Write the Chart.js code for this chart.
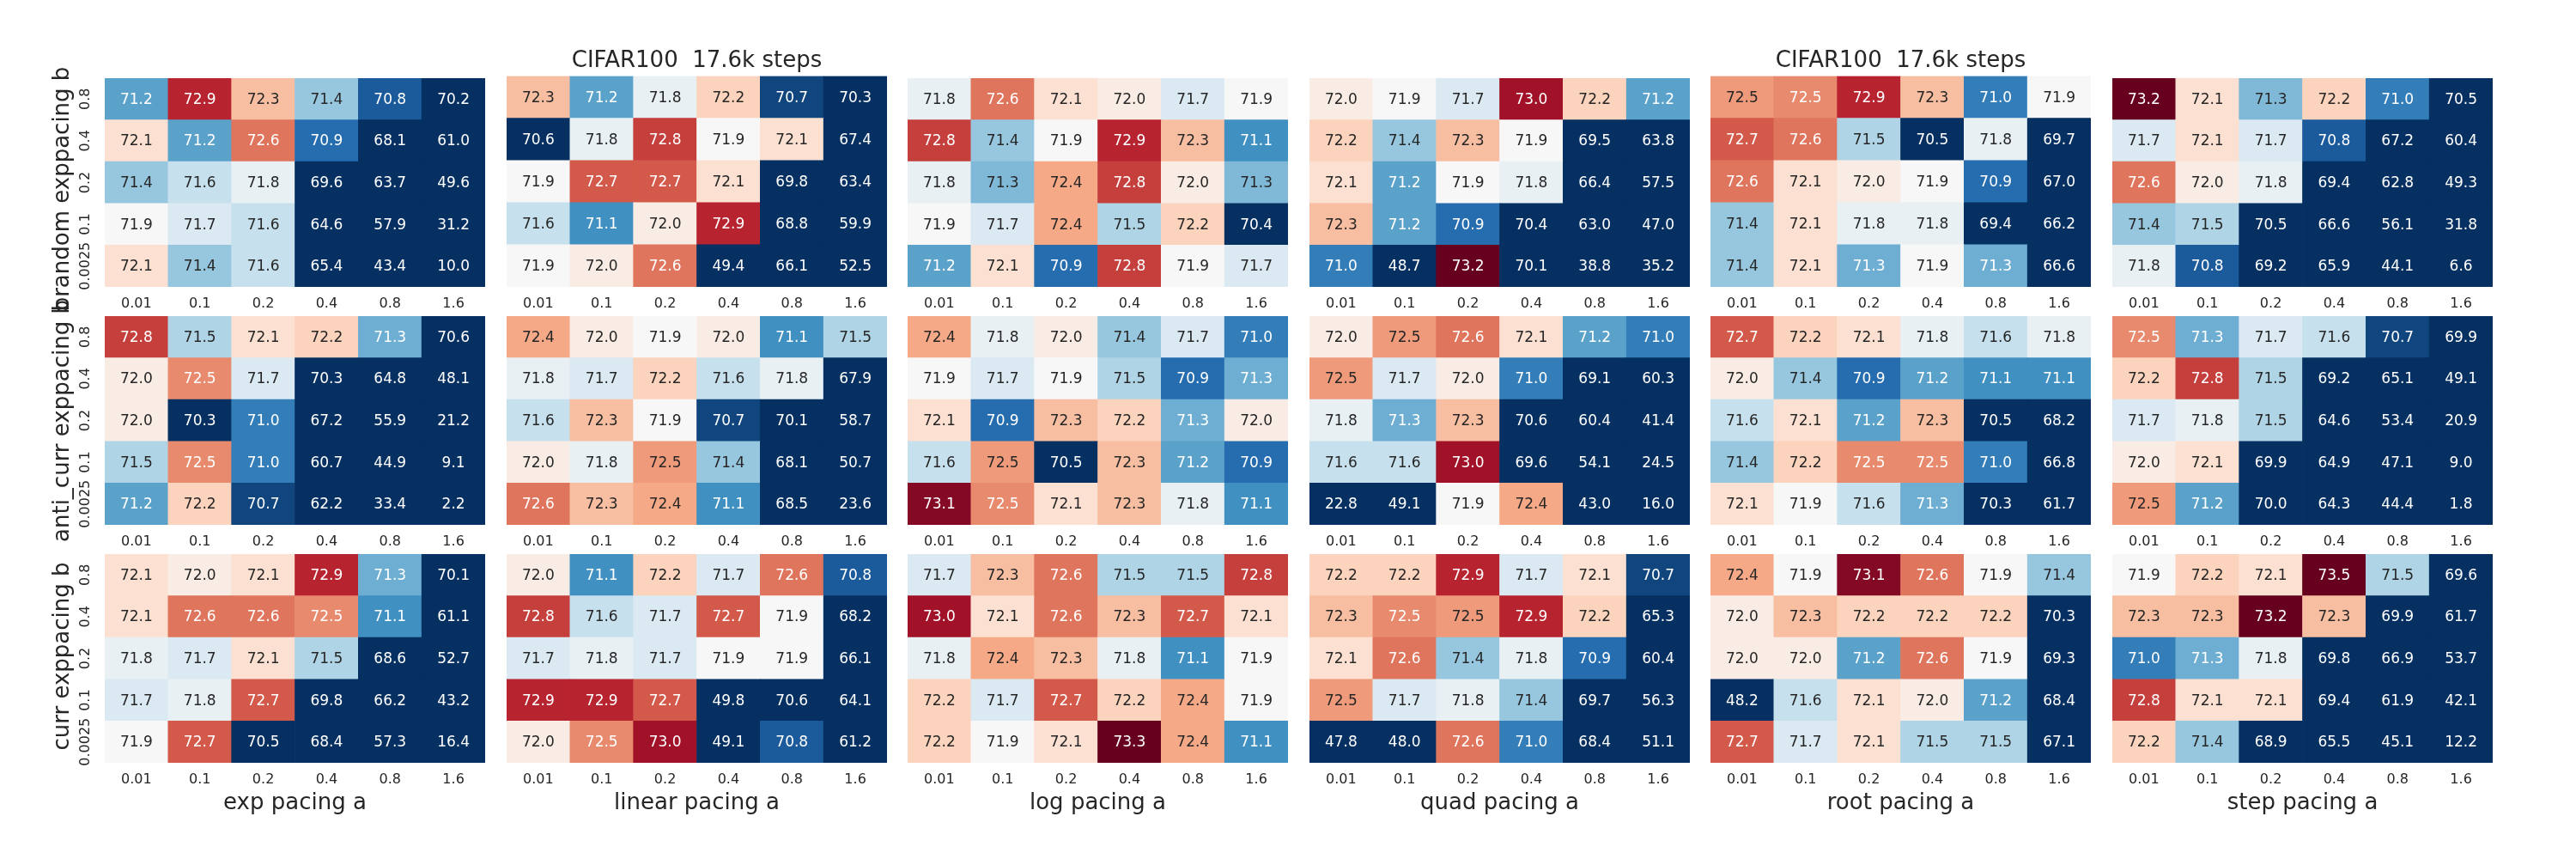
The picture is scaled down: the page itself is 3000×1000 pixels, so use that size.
<!DOCTYPE html>
<html>
<head>
<meta charset="utf-8">
<script src="https://cdn.jsdelivr.net/npm/chart.js@4.4.1/dist/chart.umd.min.js"></script>
<style>
  html, body { margin: 0; padding: 0; background: #fff; }
  #fig { position: relative; width: 3000px; height: 1000px; }
  .panel { position: absolute; }
</style>
</head>
<body>
<div id="fig"></div>
<script>
// ---------------------------------------------------------------
// ---------------------------- data ------------------------------
// ---------------------------------------------------------------

// tick labels (columns = pacing a, rows = pacing b from top to bottom)
const A_LABELS = ['0.01', '0.1', '0.2', '0.4', '0.8', '1.6'];
const B_LABELS = ['0.8', '0.4', '0.2', '0.1', '0.0025'];
const SCHEDULES = ['exp', 'linear', 'log', 'quad', 'root', 'step'];
const ORDERINGS = ['brandom', 'anti_curr', 'curr'];

// test accuracy, one grid per (pacing, ordering)
const exp_brandom = [
  [71.2, 72.9, 72.3, 71.4, 70.8, 70.2],
  [72.1, 71.2, 72.6, 70.9, 68.1, 61.0],
  [71.4, 71.6, 71.8, 69.6, 63.7, 49.6],
  [71.9, 71.7, 71.6, 64.6, 57.9, 31.2],
  [72.1, 71.4, 71.6, 65.4, 43.4, 10.0]
];
const exp_anti_curr = [
  [72.8, 71.5, 72.1, 72.2, 71.26, 70.6],
  [72.0, 72.52, 71.7, 70.3, 64.8, 48.1],
  [72.0, 70.3, 71.0, 67.2, 55.9, 21.2],
  [71.5, 72.52, 71.0, 60.7, 44.9, 9.1],
  [71.2, 72.2, 70.7, 62.2, 33.4, 2.2]
];
const exp_curr = [
  [72.1, 72.0, 72.1, 72.9, 71.26, 70.1],
  [72.1, 72.6, 72.6, 72.52, 71.1, 61.1],
  [71.8, 71.7, 72.1, 71.5, 68.6, 52.7],
  [71.7, 71.8, 72.7, 69.8, 66.2, 43.2],
  [71.9, 72.7, 70.5, 68.4, 57.3, 16.4]
];
const linear_brandom = [
  [72.3, 71.2, 71.8, 72.2, 70.7, 70.3],
  [70.6, 71.8, 72.8, 71.9, 72.1, 67.4],
  [71.9, 72.7, 72.7, 72.1, 69.8, 63.4],
  [71.6, 71.1, 72.0, 72.9, 68.8, 59.9],
  [71.9, 72.0, 72.6, 49.4, 66.1, 52.5]
];
const linear_anti_curr = [
  [72.4, 72.0, 71.9, 72.0, 71.1, 71.5],
  [71.8, 71.7, 72.2, 71.6, 71.8, 67.9],
  [71.6, 72.3, 71.9, 70.7, 70.1, 58.7],
  [72.0, 71.8, 72.46, 71.4, 68.1, 50.7],
  [72.6, 72.3, 72.4, 71.1, 68.5, 23.6]
];
const linear_curr = [
  [72.0, 71.1, 72.2, 71.7, 72.6, 70.8],
  [72.8, 71.6, 71.7, 72.7, 71.9, 68.2],
  [71.7, 71.8, 71.7, 71.9, 71.9, 66.1],
  [72.9, 72.9, 72.7, 49.8, 70.6, 64.1],
  [72.0, 72.52, 73.0, 49.1, 70.8, 61.2]
];
const log_brandom = [
  [71.8, 72.6, 72.1, 72.0, 71.7, 71.9],
  [72.8, 71.4, 71.9, 72.9, 72.3, 71.1],
  [71.8, 71.32, 72.4, 72.8, 72.0, 71.32],
  [71.9, 71.7, 72.4, 71.5, 72.2, 70.4],
  [71.2, 72.1, 70.9, 72.8, 71.9, 71.7]
];
const log_anti_curr = [
  [72.4, 71.8, 72.0, 71.4, 71.7, 71.0],
  [71.9, 71.7, 71.9, 71.5, 70.9, 71.26],
  [72.1, 70.9, 72.3, 72.2, 71.26, 72.0],
  [71.6, 72.46, 70.5, 72.3, 71.2, 70.9],
  [73.1, 72.52, 72.1, 72.3, 71.8, 71.1]
];
const log_curr = [
  [71.7, 72.3, 72.6, 71.5, 71.5, 72.8],
  [73.0, 72.1, 72.6, 72.3, 72.7, 72.1],
  [71.8, 72.4, 72.3, 71.8, 71.1, 71.9],
  [72.2, 71.7, 72.7, 72.2, 72.4, 71.9],
  [72.2, 71.9, 72.1, 73.3, 72.4, 71.1]
];
const quad_brandom = [
  [72.0, 71.9, 71.7, 73.0, 72.2, 71.2],
  [72.2, 71.4, 72.3, 71.9, 69.5, 63.8],
  [72.1, 71.2, 71.9, 71.8, 66.4, 57.5],
  [72.3, 71.2, 70.9, 70.4, 63.0, 47.0],
  [71.0, 48.7, 73.2, 70.1, 38.8, 35.2]
];
const quad_anti_curr = [
  [72.0, 72.46, 72.6, 72.1, 71.2, 71.0],
  [72.46, 71.7, 72.0, 71.0, 69.1, 60.3],
  [71.8, 71.26, 72.3, 70.6, 60.4, 41.4],
  [71.6, 71.6, 73.0, 69.6, 54.1, 24.5],
  [22.8, 49.1, 71.9, 72.4, 43.0, 16.0]
];
const quad_curr = [
  [72.2, 72.2, 72.9, 71.7, 72.1, 70.7],
  [72.3, 72.52, 72.46, 72.9, 72.2, 65.3],
  [72.1, 72.6, 71.4, 71.8, 70.9, 60.4],
  [72.46, 71.7, 71.8, 71.4, 69.7, 56.3],
  [47.8, 48.0, 72.6, 71.0, 68.4, 51.1]
];
const root_brandom = [
  [72.46, 72.52, 72.9, 72.3, 71.0, 71.9],
  [72.7, 72.6, 71.5, 70.5, 71.8, 69.7],
  [72.6, 72.1, 72.0, 71.9, 70.9, 67.0],
  [71.4, 72.1, 71.8, 71.8, 69.4, 66.2],
  [71.4, 72.1, 71.26, 71.9, 71.26, 66.6]
];
const root_anti_curr = [
  [72.7, 72.2, 72.1, 71.8, 71.6, 71.8],
  [72.0, 71.4, 70.9, 71.2, 71.1, 71.1],
  [71.6, 72.1, 71.2, 72.3, 70.5, 68.2],
  [71.4, 72.2, 72.52, 72.52, 71.0, 66.8],
  [72.1, 71.9, 71.6, 71.26, 70.3, 61.7]
];
const root_curr = [
  [72.4, 71.9, 73.1, 72.6, 71.9, 71.4],
  [72.0, 72.3, 72.2, 72.2, 72.2, 70.3],
  [72.0, 72.0, 71.2, 72.6, 71.9, 69.3],
  [48.2, 71.6, 72.1, 72.0, 71.2, 68.4],
  [72.7, 71.7, 72.1, 71.5, 71.5, 67.1]
];
const step_brandom = [
  [73.2, 72.1, 71.32, 72.2, 71.0, 70.5],
  [71.7, 72.1, 71.7, 70.8, 67.2, 60.4],
  [72.6, 72.0, 71.8, 69.4, 62.8, 49.3],
  [71.4, 71.5, 70.5, 66.6, 56.1, 31.8],
  [71.8, 70.8, 69.2, 65.9, 44.1, 6.6]
];
const step_anti_curr = [
  [72.52, 71.26, 71.7, 71.6, 70.7, 69.9],
  [72.2, 72.8, 71.5, 69.2, 65.1, 49.1],
  [71.7, 71.8, 71.5, 64.6, 53.4, 20.9],
  [72.0, 72.1, 69.9, 64.9, 47.1, 9.0],
  [72.46, 71.2, 70.0, 64.3, 44.4, 1.8]
];
const step_curr = [
  [71.9, 72.2, 72.1, 73.5, 71.5, 69.6],
  [72.3, 72.3, 73.2, 72.3, 69.9, 61.7],
  [71.0, 71.26, 71.8, 69.8, 66.9, 53.7],
  [72.8, 72.1, 72.1, 69.4, 61.9, 42.1],
  [72.2, 71.4, 68.9, 65.5, 45.1, 12.2]
];

const GRIDS = {
  brandom:   [exp_brandom, linear_brandom, log_brandom, quad_brandom, root_brandom, step_brandom],
  anti_curr: [exp_anti_curr, linear_anti_curr, log_anti_curr, quad_anti_curr, root_anti_curr, step_anti_curr],
  curr:      [exp_curr, linear_curr, log_curr, quad_curr, root_curr, step_curr]
};

// ---------------------------------------------------------------
// ---------------------------- colours ---------------------------
// ---------------------------------------------------------------

// RdBu reversed (blue -> white -> red)
const RDBU_R = [
  [5, 48, 97], [33, 102, 172], [67, 147, 195], [146, 197, 222], [209, 229, 240],
  [247, 247, 247], [253, 219, 199], [244, 165, 130], [214, 96, 77], [178, 24, 43], [103, 0, 31]
];
const VMIN = 70.6, VMAX = 73.2;

function cmap(v) {
  let t = (v - VMIN) / (VMAX - VMIN);
  t = Math.min(1, Math.max(0, t));
  const p = t * 10;
  const i = Math.min(9, Math.floor(p));
  const f = p - i;
  return RDBU_R[i].map((c, k) => c + (RDBU_R[i + 1][k] - c) * f);
}
function rgb(c) {
  return 'rgb(' + c.map(Math.round).join(',') + ')';
}
// dark text on light cells, white text on dark cells
function textColor(c) {
  const lin = c.map(x => {
    x = x / 255;
    return x <= 0.03928 ? x / 12.92 : Math.pow((x + 0.055) / 1.055, 2.4);
  });
  const lum = 0.2126 * lin[0] + 0.7152 * lin[1] + 0.0722 * lin[2];
  return lum > 0.408 ? '#262626' : '#ffffff';
}

// ---------------------------------------------------------------
// ---------------------------- plugins ---------------------------
// ---------------------------------------------------------------

// writes the value in the middle of each cell
const cellText = {
  id: 'cellText',
  afterDatasetsDraw(chart) {
    const ctx = chart.ctx;
    ctx.save();
    ctx.font = '17px "DejaVu Sans"';
    ctx.textAlign = 'center';
    ctx.textBaseline = 'middle';
    chart.data.datasets.forEach((ds, di) => {
      chart.getDatasetMeta(di).data.forEach((bar, j) => {
        const v = ds.values[j];
        ctx.fillStyle = textColor(cmap(v));
        ctx.fillText(v.toFixed(1), bar.x, (bar.y + bar.base) / 2 + 1);
      });
    });
    ctx.restore();
  }
};

// long rotated row label, allowed to run past the panel
const rowTitle = {
  id: 'rowTitle',
  afterDraw(chart, args, opts) {
    if (!opts.text) return;
    const {ctx, chartArea} = chart;
    ctx.save();
    ctx.translate(chartArea.left - 49, (chartArea.top + chartArea.bottom) / 2 + opts.dy);
    ctx.rotate(-Math.PI / 2);
    ctx.font = '26px "DejaVu Sans"';
    ctx.fillStyle = '#262626';
    ctx.textAlign = 'center';
    ctx.textBaseline = 'middle';
    ctx.fillText(opts.text, 0, 0);
    ctx.restore();
  }
};

// ---------------------------------------------------------------
// ---------------------------- panels ----------------------------
// ---------------------------------------------------------------

Chart.defaults.font.family = '"DejaVu Sans", sans-serif';
Chart.defaults.color = '#262626';

const PANEL_W = 443, PANEL_H = 243;
const COL_X = [122, 590, 1057, 1525, 1992, 2460];
const ROW_Y = [91, 368, 645];
const ROW_TITLE_DY = [7.5, 0.5, -2.5];
const Y_W = 40;   // y tick box (first column)
const X_H = 63;   // x tick + title box

const fig = document.getElementById('fig');

function makePanel(r, c) {
  const padL = c === 0 ? 122 : 20, padR = 20, padT = 60, padB = 90;
  const hasTitle = r === 0 && (c === 1 || c === 4);

  const div = document.createElement('div');
  div.className = 'panel';
  div.style.left = (COL_X[c] - padL) + 'px';
  div.style.top = (ROW_Y[r] - padT) + 'px';
  div.style.width = (padL + PANEL_W + padR) + 'px';
  div.style.height = (padT + PANEL_H + padB) + 'px';
  const canvas = document.createElement('canvas');
  div.appendChild(canvas);
  fig.appendChild(div);

  const grid = GRIDS[ORDERINGS[r]][c];
  // first dataset sits at the bottom of the stack
  const datasets = grid.map((row, i) => ({
    label: B_LABELS[i],
    data: row.map(() => 1),
    values: row,
    backgroundColor: row.map(v => rgb(cmap(v))),
    borderWidth: 0,
    barPercentage: 1,
    categoryPercentage: 1
  })).reverse();

  new Chart(canvas, {
    type: 'bar',
    data: { labels: A_LABELS, datasets: datasets },
    plugins: [cellText, rowTitle],
    options: {
      responsive: true,
      maintainAspectRatio: false,
      animation: false,
      events: [],
      layout: {
        padding: {
          left: c === 0 ? padL - Y_W : padL,
          right: padR,
          top: hasTitle ? padT - 35.2 : padT,
          bottom: padB - X_H
        }
      },
      plugins: {
        legend: { display: false },
        tooltip: { enabled: false },
        title: {
          display: hasTitle,
          text: 'CIFAR100  17.6k steps',
          font: { size: 26, weight: 'normal' },
          color: '#262626',
          padding: { top: 0, bottom: 1.6 }
        },
        rowTitle: { text: c === 0 ? ORDERINGS[r] + ' exppacing b' : '', dy: ROW_TITLE_DY[r] }
      },
      scales: {
        x: {
          type: 'category',
          stacked: true,
          offset: true,
          grid: { display: false, drawTicks: false },
          border: { display: false },
          afterFit: s => { s.height = X_H; },
          ticks: { autoSkip: false, maxRotation: 0, minRotation: 0, padding: 10, font: { size: 16 }, color: '#262626' },
          title: {
            display: r === 2,
            text: SCHEDULES[c] + ' pacing a',
            font: { size: 26 },
            color: '#262626',
            padding: { top: 0, bottom: 0 }
          }
        },
        y: {
          type: 'linear',
          stacked: true,
          min: 0,
          max: 5,
          display: c === 0,
          grid: { display: false, drawTicks: false },
          border: { display: false },
          afterBuildTicks: s => { s.ticks = [0.5, 1.5, 2.5, 3.5, 4.5].map(v => ({ value: v })); },
          afterFit: s => { s.width = c === 0 ? Y_W : 0; },
          ticks: {
            autoSkip: false,
            minRotation: 90,
            maxRotation: 90,
            crossAlign: 'center',
            padding: -6,
            font: { size: 16 },
            color: '#262626',
            callback: v => B_LABELS[4 - Math.floor(v)]
          }
        }
      }
    }
  });
}

for (let r = 0; r < 3; r++) {
  for (let c = 0; c < 6; c++) {
    makePanel(r, c);
  }
}
</script>
</body>
</html>
